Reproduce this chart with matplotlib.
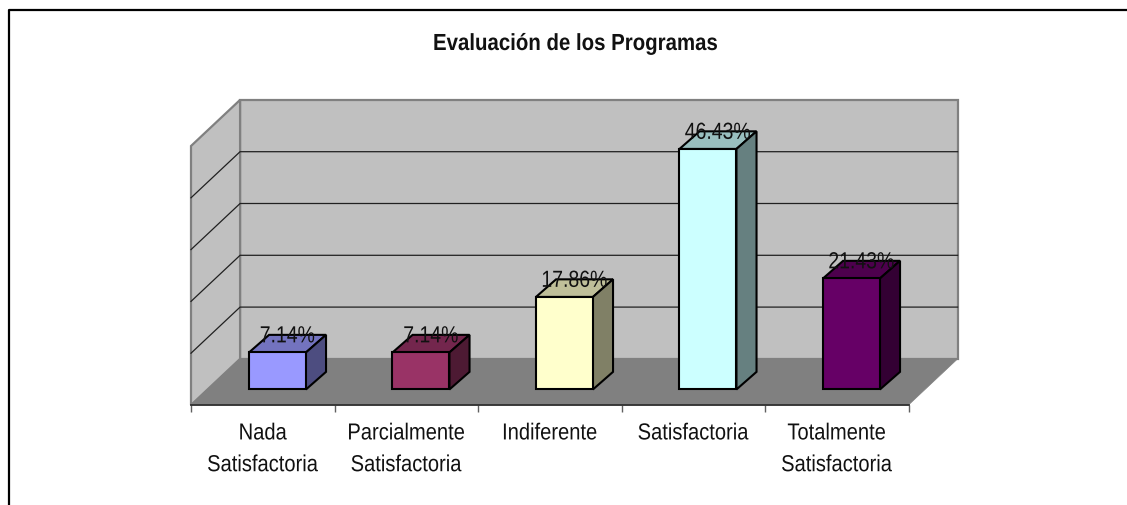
import matplotlib
matplotlib.use("Agg")
import matplotlib.pyplot as plt
from matplotlib.colors import to_rgb
from matplotlib.lines import Line2D
from matplotlib.patches import Polygon
from matplotlib.patheffects import AbstractPathEffect
from matplotlib.transforms import Affine2D

plt.rcParams["font.family"] = ["Liberation Sans", "DejaVu Sans"]

title = "Evaluación de los Programas"
categories = ["Nada\nSatisfactoria", "Parcialmente\nSatisfactoria", "Indiferente",
              "Satisfactoria", "Totalmente\nSatisfactoria"]
values = [7.14, 7.14, 17.86, 46.43, 21.43]
bar_colors = ["#9999FF", "#993366", "#FFFFCC", "#CCFFFF", "#660066"]
y_ticks = [0, 10, 20, 30, 40, 50]

W, H = 1127, 506

# 3d offsets in data units
wall_dx, wall_dy = 0.342, 8.9
bar_left, bar_w, bar_lift = 0.404, 0.397, 3.0
bar_dx, bar_dy = 0.14, 3.4


class TallText(AbstractPathEffect):
    # the reference text is stretched upward from its baseline
    def __init__(self, k):
        super().__init__()
        self.k = k

    def draw_path(self, renderer, gc, tpath, affine, rgbFace=None):
        renderer.draw_path(gc, tpath, Affine2D().scale(1, self.k) + affine, rgbFace)


def shade(color, k):
    return tuple(c * k for c in to_rgb(color))


def poly(ax, pts, face, edge, lw, z):
    ax.add_patch(Polygon(pts, closed=True, facecolor=face, edgecolor=edge, linewidth=lw,
                         joinstyle="miter", zorder=z, clip_on=False))


fig = plt.figure(figsize=(W / 100, H / 100), dpi=100, facecolor="white")
ax = fig.add_axes([191 / W, (H - 406) / H, 717.5 / W, 259 / H])
ax.set_xlim(0, len(categories))
ax.set_ylim(y_ticks[0], y_ticks[-1])
ax.patch.set_visible(False)
for s in ["top", "left", "right"]:
    ax.spines[s].set_visible(False)
ax.spines["bottom"].set_color("#303030")
ax.spines["bottom"].set_linewidth(1.3)
ax.spines["bottom"].set_zorder(2)

n = len(categories)
top = y_ticks[-1]

# walls and floor
poly(ax, [(wall_dx, wall_dy), (n + wall_dx, wall_dy), (n + wall_dx, top + wall_dy), (wall_dx, top + wall_dy)],
     "#C0C0C0", "#808080", 1.6, 1)
poly(ax, [(0, 0), (wall_dx, wall_dy), (wall_dx, top + wall_dy), (0, top)], "#C0C0C0", "#808080", 1.6, 1)
poly(ax, [(0, 0), (n, 0), (n + wall_dx, wall_dy), (wall_dx, wall_dy)], "#808080", "#808080", 0.5, 1.5)

# grid lines
for t in y_ticks[1:-1]:
    ax.plot([0, wall_dx, n + wall_dx], [t, t + wall_dy, t + wall_dy], color="#202020", lw=0.9,
            zorder=1.8, clip_on=False)

# bars
for i, v in enumerate(values):
    x0 = i + bar_left
    x1 = x0 + bar_w
    y0 = bar_lift
    y1 = bar_lift + v
    c = bar_colors[i]
    poly(ax, [(x0, y1), (x1, y1), (x1 + bar_dx, y1 + bar_dy), (x0 + bar_dx, y1 + bar_dy)], shade(c, 0.75), "black", 1.5, 3)
    poly(ax, [(x1, y0), (x1 + bar_dx, y0 + bar_dy), (x1 + bar_dx, y1 + bar_dy), (x1, y1)], shade(c, 0.5), "black", 1.5, 3)
    ax.bar(x0, v, bar_w, bottom=y0, align="edge", color=c, edgecolor="black", linewidth=1.5, zorder=3.2, clip_on=False)
    ax.text(x0 + bar_w / 2 + bar_dx / 2, y1 + bar_dy - 1.45, "%.2f%%" % v, ha="center", va="baseline",
            fontsize=14, color="#111111", zorder=4, path_effects=[TallText(1.2)])

# axis ticks and labels
ax.set_xticks(range(n + 1))
ax.set_xticklabels([])
ax.tick_params(axis="x", which="major", length=5, width=1, color="#606060")
ax.set_xticks([i + 0.5 for i in range(n)], minor=True)
ax.set_xticklabels(categories, minor=True, fontsize=14.5, linespacing=1.85, color="#111111")
ax.tick_params(axis="x", which="minor", length=0, pad=14)
for lab in ax.get_xticklabels(minor=True):
    lab.set_path_effects([TallText(1.15)])
ax.set_yticks([])

# outer frame, right and bottom sides are cut off
fig.add_artist(Line2D([9 / W, 9 / W, 1], [0, 1 - 11 / H, 1 - 11 / H], color="black", lw=1.6))
fig.text(575 / W, 1 - 51 / H, title, ha="center", va="baseline", fontsize=14.7, fontweight="bold",
         color="#111111", path_effects=[TallText(1.14)])

fig.savefig("out.png", dpi=100)
